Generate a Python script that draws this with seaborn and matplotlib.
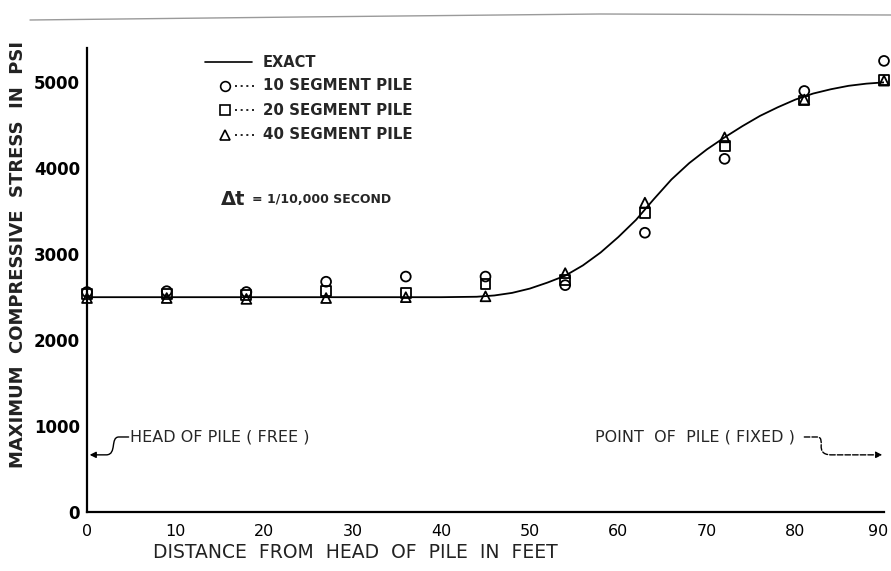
import matplotlib
matplotlib.use("Agg")
import matplotlib.pyplot as plt
from matplotlib.path import Path
from matplotlib.patches import FancyArrowPatch
from matplotlib.lines import Line2D
from matplotlib.transforms import ScaledTranslation
import seaborn as sns
import pandas as pd

# Distance along the pile (ft) at which the discrete solutions were evaluated
stations = [0, 9, 18, 27, 36, 45, 54, 63, 72, 81, 90]

# Maximum compressive stress (psi) for each discretisation
seg10 = [2560, 2570, 2560, 2680, 2740, 2740, 2640, 3250, 4110, 4900, 5250]
seg20 = [2540, 2540, 2530, 2570, 2550, 2650, 2700, 3480, 4260, 4790, 5030]
seg40 = [2490, 2490, 2480, 2490, 2500, 2510, 2780, 3600, 4360, 4800, 5020]

# Exact solution
exact_x = [0, 40, 44, 46, 48, 50, 52, 54, 56, 58, 60, 62, 64, 66, 68, 70,
           72, 74, 76, 78, 80, 82, 84, 86, 88, 90]
exact_y = [2500, 2500, 2505, 2520, 2550, 2600, 2670, 2750, 2870, 3020, 3200,
           3400, 3640, 3870, 4060, 4220, 4360, 4490, 4610, 4710, 4800, 4870,
           4920, 4960, 4985, 5000]

x_ticks = [0, 10, 20, 30, 40, 50, 60, 70, 80, 90]
y_ticks = [0, 1000, 2000, 3000, 4000, 5000]

sns.set_theme(style="white")
plt.rcParams["font.family"] = ["DejaVu Sans"]

fig = plt.figure(figsize=(8.91, 5.71), dpi=100)
ax = fig.add_axes([87 / 891, 1 - 512 / 571, (884 - 87) / 891, (512 - 48) / 571])

exact_df = pd.DataFrame({"distance": exact_x, "stress": exact_y})
sns.lineplot(data=exact_df, x="distance", y="stress", ax=ax, color="black",
             lw=1.3, sort=True, estimator=None)

series = [(seg10, "o"), (seg20, "s"), (seg40, "^")]
for vals, mk in series:
    df = pd.DataFrame({"distance": stations, "stress": vals})
    sns.scatterplot(data=df, x="distance", y="stress", ax=ax, marker=mk,
                    s=50, facecolor="none", edgecolor="black", linewidth=1.3,
                    clip_on=False, zorder=5)

ax.set_xlim(0, 90)
ax.set_ylim(0, 5400)
ax.set_xticks(x_ticks)
ax.set_yticks(y_ticks)
ax.set_xticklabels([str(t) for t in x_ticks], fontsize=11.5)
ax.set_yticklabels([str(t) for t in y_ticks], fontsize=12, fontweight="bold")
ax.tick_params(axis="x", length=0, pad=9, colors="black")
ax.tick_params(axis="y", length=0, pad=5, colors="black")
# keep the last distance label inside the figure
last = ax.get_xticklabels()[-1]
last.set_transform(last.get_transform()
                   + ScaledTranslation(-6 / 100, 0, fig.dpi_scale_trans))
ax.set_xlabel("")
ax.set_ylabel("")
for side in ["top", "right"]:
    ax.spines[side].set_visible(False)
for side in ["left", "bottom"]:
    ax.spines[side].set_color("black")
    ax.spines[side].set_linewidth(1.6)

fig.text(18 / 891, 1 - 254 / 571, "MAXIMUM  COMPRESSIVE  STRESS  IN  PSI",
         rotation=90, ha="center", va="center", fontsize=13,
         fontweight="bold", color="#222222")
fig.text(355 / 891, 1 - 552 / 571, "DISTANCE  FROM  HEAD  OF  PILE  IN  FEET",
         ha="center", va="center", fontsize=13.5, color="#222222")

# Key
ax.plot([13.3, 18.6], [5237, 5237], color="black", lw=1.2)
ax.text(19.8, 5237, "EXACT", va="center", ha="left", fontsize=10.5,
        fontweight="bold")
key_rows = [("o", 4958, "10 SEGMENT PILE"),
            ("s", 4678, "20 SEGMENT PILE"),
            ("^", 4390, "40 SEGMENT PILE")]
for mk, yy, label in key_rows:
    ax.plot([15.6], [yy], marker=mk, ms=7, mfc="none", mec="black", mew=1.2)
    ax.plot([16.7, 19.2], [yy, yy], color="black", lw=1.2, ls=(0, (1.2, 2.2)))
    ax.text(19.9, yy, label, va="center", ha="left", fontsize=10.8,
            fontweight="bold")
ax.text(15.1, 3640, "Δt", va="center", ha="left", fontsize=14,
        fontweight="bold")
ax.text(18.6, 3640, "= 1/10,000 SECOND", va="center", ha="left", fontsize=9,
        fontweight="bold")

# End conditions
ax.text(4.9, 873, "HEAD OF PILE ( FREE )", va="center", ha="left",
        fontsize=11.5)
ax.text(57.4, 873, "POINT  OF  PILE ( FIXED )", va="center", ha="left",
        fontsize=11.5)

left_path = Path([(4.7, 873), (3.6, 873), (2.6, 873), (3.4, 670), (2.2, 665),
                  (0.3, 665)],
                 [Path.MOVETO, Path.LINETO, Path.CURVE4, Path.CURVE4,
                  Path.CURVE4, Path.LINETO])
ax.add_patch(FancyArrowPatch(path=left_path, arrowstyle="-|>",
                             mutation_scale=9, color="black", lw=1.0,
                             clip_on=False))
right_path = Path([(81.0, 873), (82.4, 873), (83.6, 873), (82.0, 670),
                   (84.0, 665), (89.8, 665)],
                  [Path.MOVETO, Path.LINETO, Path.CURVE4, Path.CURVE4,
                   Path.CURVE4, Path.LINETO])
ax.add_patch(FancyArrowPatch(path=right_path, arrowstyle="-|>",
                             mutation_scale=9, color="black", lw=1.0,
                             ls=(0, (4, 1.5)), clip_on=False))

# worn top edge of the sheet
fig.add_artist(Line2D([30 / 891, 300 / 891, 600 / 891, 1.0],
                      [1 - 20 / 571, 1 - 17 / 571, 1 - 14 / 571, 1 - 15 / 571],
                      transform=fig.transFigure, color="#9a9a9a", lw=1.0))

fig.savefig("out.png", dpi=100)
